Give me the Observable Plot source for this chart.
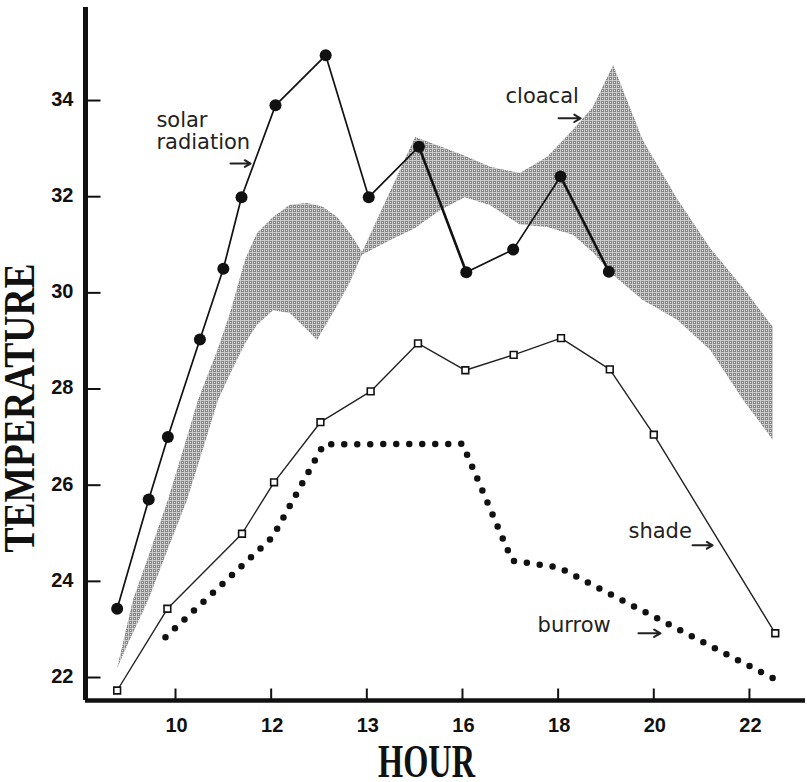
<!DOCTYPE html>
<html>
<head>
<meta charset="utf-8">
<script src="https://cdn.jsdelivr.net/npm/d3@7"></script>
<script src="https://cdn.jsdelivr.net/npm/@observablehq/plot@0.6"></script>
<style>html,body{margin:0;padding:0;background:#fff;}</style>
</head>
<body>
<div id="chart"></div>
<script>
// ---- data (hour, temperature) ----
const solarHour = [8.78, 9.44, 9.84, 10.51, 11.00, 11.38, 12.09, 13.14, 14.04, 15.09, 16.08, 17.06, 18.05, 19.06];
const solarTemp = [23.43, 25.70, 27.00, 29.03, 30.50, 31.99, 33.90, 34.94, 31.99, 33.04, 30.43, 30.90, 32.42, 30.44];
// stroke weight of each segment leaving a point (the printed line is heavier on two segments)
const solarSegWeight = [1.7, 1.7, 1.7, 1.7, 1.7, 1.7, 1.7, 1.7, 1.7, 2.6, 1.7, 1.7, 2.6];

const shadeHour = [8.78, 9.83, 11.39, 12.06, 13.03, 14.08, 15.07, 16.06, 17.07, 18.06, 19.08, 20.00, 22.54];
const shadeTemp = [21.73, 23.43, 24.99, 26.06, 27.31, 27.95, 28.95, 28.39, 28.71, 29.06, 28.41, 27.05, 22.92];

const burrowHour = [9.79, 12.03, 13.10, 16.00, 17.04, 18.01, 22.58];
const burrowTemp = [22.84, 24.92, 26.85, 26.86, 24.43, 24.29, 21.94];

// cloacal range (shaded band)
const bandHour  = [8.79, 9.12, 9.44, 9.85, 10.25, 10.48, 10.90, 11.15, 11.46, 11.71, 12.05, 12.40, 12.76, 12.97, 13.09, 13.39, 13.66, 13.91, 14.50, 15.02, 15.54, 16.06, 16.59, 17.21, 17.78, 18.32, 18.74, 19.16, 19.78, 20.50, 21.19, 21.88, 22.50];
const bandUpper = [22.19, 23.60, 24.50, 25.68, 26.99, 27.76, 28.84, 29.57, 30.67, 31.23, 31.57, 31.82, 31.86, 31.81, 31.78, 31.57, 31.23, 30.84, 32.11, 33.23, 33.04, 32.84, 32.61, 32.48, 32.82, 33.38, 33.86, 34.73, 33.17, 31.94, 30.92, 30.09, 29.28];
const bandLower = [22.19, 22.92, 23.60, 24.66, 25.68, 26.41, 27.76, 28.30, 28.93, 29.32, 29.63, 29.57, 29.22, 29.01, 29.22, 29.72, 30.22, 30.78, 31.09, 31.34, 31.71, 31.98, 31.81, 31.41, 31.36, 31.20, 30.83, 30.36, 29.84, 29.43, 28.80, 27.76, 26.93];

// ticks
const xTickValues = [10, 12, 14, 16, 18, 20, 22];
const xTickLabels = ["10", "12", "13", "16", "18", "20", "22"];
const yTickValues = [22, 24, 26, 28, 30, 32, 34];
const yTickLabels = ["22", "24", "26", "28", "30", "32", "34"];

// annotations (label anchor in data units)
const noteLabel = ["solar\nradiation", "cloacal", "shade", "burrow"];
const noteHour  = [9.60, 16.90, 19.47, 17.57];
const noteTemp  = [33.00, 33.94, 24.91, 22.94];
const arrowHour1 = [11.15, 18.01, 20.81, 19.68];
const arrowHour2 = [11.57, 18.47, 21.23, 20.14];
const arrowTemp  = [32.69, 33.63, 24.75, 22.92];

const xDomain = [8.118, 23.172];
const yDomain = [21.522, 35.935];

// ---- build tables ----
const solar = solarHour.map((h, i) => ({hour: h, temp: solarTemp[i]}));
const solarSegs = solarSegWeight.map((w, i) => ({x1: solarHour[i], y1: solarTemp[i], x2: solarHour[i + 1], y2: solarTemp[i + 1], w}));
const shade = shadeHour.map((h, i) => ({hour: h, temp: shadeTemp[i]}));
const burrow = burrowHour.map((h, i) => ({hour: h, temp: burrowTemp[i]}));
const band = bandHour.map((h, i) => ({hour: h, lo: bandLower[i], hi: bandUpper[i]}));
const notes = noteLabel.map((t, i) => ({text: t, hour: noteHour[i], temp: noteTemp[i]}));
const arrows = arrowHour1.map((h, i) => ({x1: h, x2: arrowHour2[i], y: arrowTemp[i]}));

const tickRight = {draw(ctx) { ctx.moveTo(0, 0); ctx.lineTo(15, 0); }};
const tickUp = {draw(ctx) { ctx.moveTo(0, 0); ctx.lineTo(0, -12); }};

const sans = "'DejaVu Sans', sans-serif";
const boldSans = "'Liberation Sans', Arial, sans-serif";
const serif = "'Liberation Serif', 'Times New Roman', serif";

const svg = Plot.plot({
  width: 807,
  height: 782,
  marginLeft: 85,
  marginRight: 2,
  marginTop: 7,
  marginBottom: 82,
  style: {background: "white", overflow: "visible"},
  x: {domain: xDomain, axis: null},
  y: {domain: yDomain, axis: null},
  marks: [
    Plot.areaY(band, {x: "hour", y1: "lo", y2: "hi", fill: "url(#stipple)", curve: "linear"}),
    // axes
    Plot.ruleX([xDomain[0]], {stroke: "#111", strokeWidth: 5}),
    Plot.ruleY([yDomain[0]], {stroke: "#111", strokeWidth: 4.5}),
    Plot.dot(yTickValues, {y: d => d, frameAnchor: "left", symbol: tickRight, r: 3, fill: "none", stroke: "#111", strokeWidth: 2}),
    Plot.dot(xTickValues, {x: d => d, frameAnchor: "bottom", symbol: tickUp, r: 3, fill: "none", stroke: "#111", strokeWidth: 2}),
    Plot.text(yTickValues, {y: d => d, text: (d, i) => yTickLabels[i], frameAnchor: "left", textAnchor: "end", lineAnchor: "middle", dx: -12, dy: -1,
      fontSize: 20, fontWeight: "bold", fontFamily: boldSans, fill: "#111"}),
    Plot.text(xTickValues, {x: d => d, text: (d, i) => xTickLabels[i], frameAnchor: "bottom", textAnchor: "middle", lineAnchor: "middle", dy: 25, dx: 1,
      fontSize: 20, fontWeight: "bold", fontFamily: boldSans, fill: "#111"}),
    Plot.text(["TEMPERATURE"], {text: d => d, frameAnchor: "left", textAnchor: "middle", lineAnchor: "middle", rotate: -90, dx: -66, dy: 54,
      fontSize: 45, fontWeight: "bold", fontFamily: serif, fill: "#111"}),
    Plot.text(["HOUR"], {text: d => d, frameAnchor: "bottom", textAnchor: "middle", lineAnchor: "middle", dx: -19, dy: 61,
      fontSize: 47, fontWeight: "bold", fontFamily: serif, fill: "#111"}),
    // series
    Plot.line(burrow, {x: "hour", y: "temp", stroke: "#111", strokeWidth: 6.5, strokeLinecap: "round", strokeDasharray: "0 13"}),
    Plot.line(shade, {x: "hour", y: "temp", stroke: "#222", strokeWidth: 1.4}),
    Plot.dot(shade, {x: "hour", y: "temp", symbol: "square", r: 3.8, fill: "white", stroke: "#111", strokeWidth: 1.6}),
    Plot.link(solarSegs, {x1: "x1", y1: "y1", x2: "x2", y2: "y2", strokeWidth: "w", stroke: "#111", strokeLinecap: "round"}),
    Plot.dot(solar, {x: "hour", y: "temp", r: 6, fill: "#111", stroke: "none"}),
    // annotations
    Plot.text(notes, {x: "hour", y: "temp", text: "text", textAnchor: "start", lineAnchor: "bottom", lineHeight: 1.02,
      fontSize: 21, fontFamily: sans, fill: "#222"}),
    Plot.arrow(arrows, {x1: "x1", x2: "x2", y1: "y", y2: "y", stroke: "#222", strokeWidth: 2, headLength: 8, bend: 0})
  ]
});

// stipple pattern for the cloacal band
const defs = d3.select(svg).insert("defs", ":first-child");
const pat = defs.append("pattern").attr("id", "stipple").attr("width", 4).attr("height", 4).attr("patternUnits", "userSpaceOnUse");
pat.append("rect").attr("width", 4).attr("height", 4).attr("fill", "#cacaca");
pat.append("rect").attr("x", 1).attr("y", 1).attr("width", 3).attr("height", 3).attr("fill", "#858585");
pat.append("rect").attr("x", 2).attr("y", 2).attr("width", 1).attr("height", 1).attr("fill", "#f0f0f0");

// condensed serif axis titles
d3.select(svg).selectAll("text").each(function() {
  const t = this.textContent;
  if (t === "TEMPERATURE") { this.setAttribute("textLength", 289); this.setAttribute("lengthAdjust", "spacingAndGlyphs"); }
  if (t === "HOUR") { this.setAttribute("textLength", 97); this.setAttribute("lengthAdjust", "spacingAndGlyphs"); }
});

document.getElementById("chart").appendChild(svg);
</script>
</body>
</html>
